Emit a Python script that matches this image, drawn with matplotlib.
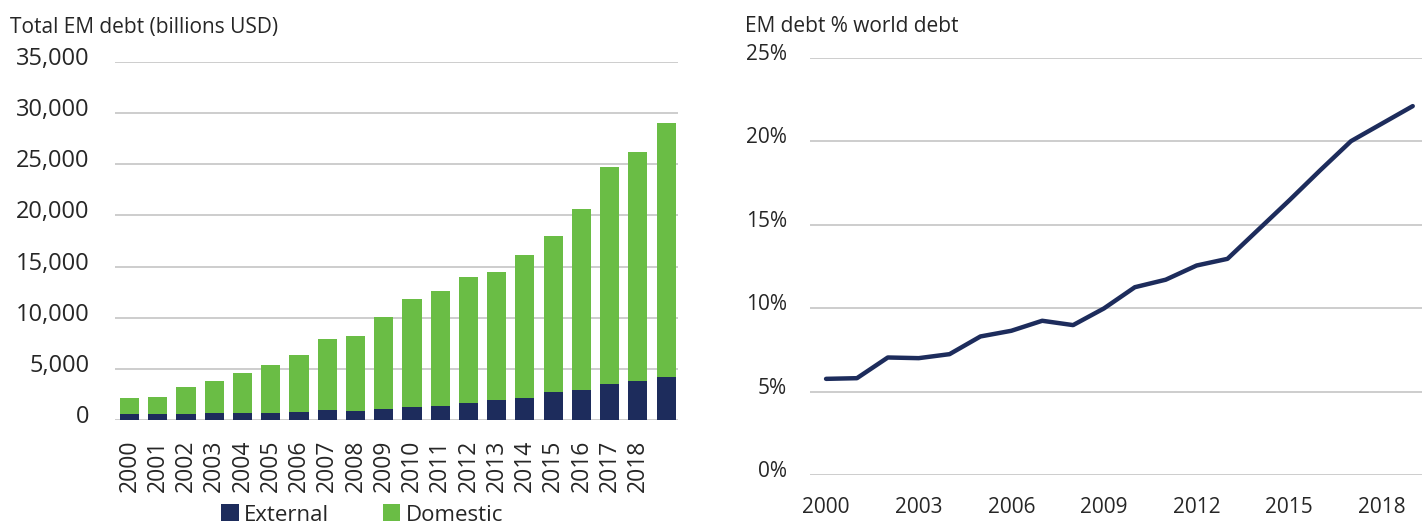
import matplotlib.pyplot as plt
from matplotlib.ticker import FuncFormatter
from matplotlib.transforms import ScaledTranslation

plt.rcParams['font.family'] = ['Open Sans', 'DejaVu Sans']

# dette EM totale (milliards USD)
years = list(range(2000, 2020))
year_labels = [str(y) for y in range(2000, 2019)] + ['']
external = [560, 560, 620, 650, 720, 720, 810, 970, 910, 1070,
            1230, 1400, 1690, 1950, 2110, 2760, 2920, 3510, 3800, 4250]
total = [2170, 2270, 3250, 3800, 4550, 5360, 6400, 7920, 8190, 10070,
         11820, 12570, 13970, 14460, 16150, 18000, 20630, 24760, 26220, 29010]
domestic = [t - e for t, e in zip(total, external)]

# part de la dette mondiale (%)
share_years = list(range(2000, 2020))
share = [5.76, 5.8, 7.04, 7.0, 7.24, 8.3, 8.64, 9.24, 8.98, 9.98,
         11.25, 11.7, 12.55, 12.95, 14.7, 16.45, 18.25, 20.0, 21.05, 22.1]

navy = '#1d2c5c'
green = '#6abd45'
grid_col = '#c9c9c9'
txt = '#262626'

fig = plt.figure(figsize=(14.22, 5.25), dpi=100)

# graphique barres
ax1 = fig.add_axes([115 / 1422, 1 - 420 / 525, 563 / 1422, 358 / 525])
x = list(range(len(years)))
ax1.bar(x, external, width=0.68, color=navy, label='External', zorder=3)
ax1.bar(x, domestic, width=0.68, bottom=external, color=green, label='Domestic', zorder=3)
ax1.set_ylim(0, 35000)
ax1.set_xlim(-0.51, 19.42)
ax1.set_yticks(range(0, 35001, 5000))
ax1.yaxis.set_major_formatter(FuncFormatter(lambda v, p: f'{int(v):,}'))
ax1.set_xticks(x)
ax1.set_xticklabels(year_labels, rotation=90)
ax1.tick_params(axis='y', length=0, pad=18.5, labelsize=17, labelcolor=txt)
ax1.tick_params(axis='x', length=0, pad=14, labelsize=16.5, labelcolor=txt)
ax1.grid(axis='y', color=grid_col, linewidth=1.3, zorder=0)
for s in ax1.spines.values():
    s.set_visible(False)

leg = fig.legend(loc='center', bbox_to_anchor=(362 / 1422, 1 - 515 / 525), ncol=2,
                 frameon=False, fontsize=16, handlelength=0.8, handleheight=0.8,
                 handletextpad=0.25, columnspacing=2.4, borderpad=0)
for t in leg.get_texts():
    t.set_color(txt)

# graphique ligne
ax2 = fig.add_axes([810 / 1422, 1 - 475 / 525, 612 / 1422, 417.3 / 525])
ax2.plot(share_years, share, color=navy, linewidth=3.2, solid_capstyle='round', zorder=3)
ax2.set_ylim(0, 25)
ax2.set_xlim(1999.48, 2019.3)
ax2.set_yticks(range(0, 26, 5))
ax2.yaxis.set_major_formatter(FuncFormatter(lambda v, p: f'{int(v)}%'))
ax2.set_xticks(range(2000, 2019, 3))
ax2.tick_params(axis='y', length=0, pad=16.5, labelsize=15, labelcolor=txt)
ax2.tick_params(axis='x', length=0, pad=16, labelsize=15, labelcolor=txt)
ax2.grid(axis='y', color=grid_col, linewidth=1.3, zorder=0)
for s in ax2.spines.values():
    s.set_visible(False)

# labels Y un peu au-dessus des lignes
shift = ScaledTranslation(0, 6 / 100, fig.dpi_scale_trans)
for ax in (ax1, ax2):
    for lab in ax.get_yticklabels():
        lab.set_transform(lab.get_transform() + shift)

fig.text(10 / 1422, 1 - 33 / 525, 'Total EM debt (billions USD)', fontsize=15,
         color=txt, va='baseline')
fig.text(745 / 1422, 1 - 32 / 525, 'EM debt % world debt', fontsize=15,
         color=txt, va='baseline')

plt.savefig('out.png', dpi=100)
